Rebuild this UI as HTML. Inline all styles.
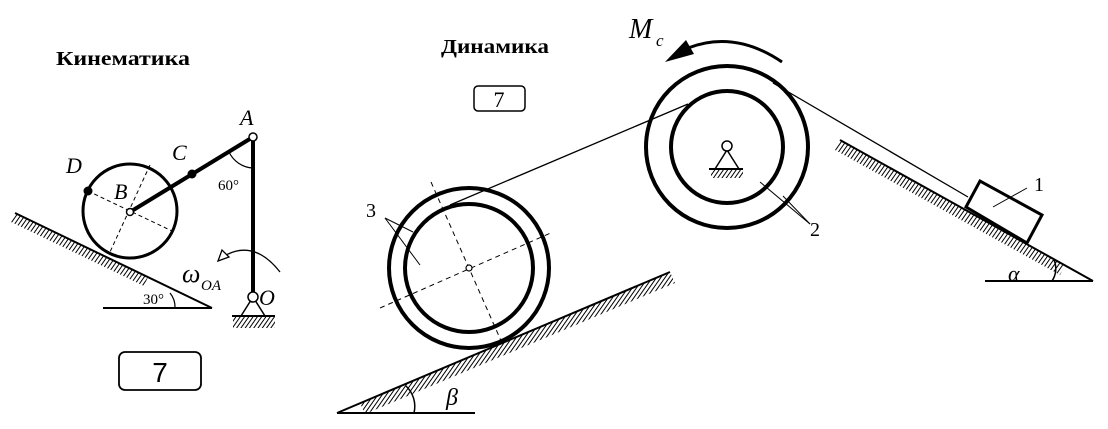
<!DOCTYPE html>
<html><head><meta charset="utf-8"><style>
html,body{margin:0;padding:0;background:#fff;}
svg{display:block}
text{font-family:"Liberation Serif",serif;fill:#000}
</style></head><body>
<svg width="1108" height="429" viewBox="0 0 1108 429" xmlns="http://www.w3.org/2000/svg">
<defs>
<pattern id="h" patternUnits="userSpaceOnUse" width="3.5" height="4" patternTransform="rotate(35)">
<line x1="0" y1="0" x2="0" y2="4" stroke="#000" stroke-width="2"/>
</pattern>
</defs>
<!-- titles -->
<text x="56" y="65" font-size="20" font-weight="bold" textLength="134" lengthAdjust="spacingAndGlyphs">Кинематика</text>
<text x="441" y="53" font-size="20" font-weight="bold" textLength="108" lengthAdjust="spacingAndGlyphs">Динамика</text>
<rect x="474" y="86" width="51" height="25" rx="4" fill="none" stroke="#000" stroke-width="1.5"/>
<text x="499" y="107" font-size="22" text-anchor="middle">7</text>
<rect x="119" y="352" width="82" height="38" rx="6" fill="none" stroke="#000" stroke-width="1.8"/>
<text x="160" y="382" font-size="28" text-anchor="middle" style="font-family:'Liberation Sans',sans-serif">7</text>

<!-- LEFT: kinematics -->
<polygon points="15,213 148,277 144,286 11,222" fill="url(#h)"/>
<line x1="15" y1="213" x2="212" y2="308" stroke="#000" stroke-width="2"/>
<line x1="103" y1="308" x2="212" y2="308" stroke="#000" stroke-width="2"/>
<path d="M175,308 A 22 22 0 0 0 170,293" fill="none" stroke="#000" stroke-width="1.2"/>
<text x="143" y="304" font-size="15">30°</text>
<circle cx="130" cy="211" r="47" fill="none" stroke="#000" stroke-width="3"/>
<line x1="88" y1="191" x2="172" y2="231" stroke="#000" stroke-width="1" stroke-dasharray="4,3"/>
<line x1="150" y1="165" x2="110" y2="252" stroke="#000" stroke-width="1" stroke-dasharray="4,3"/>
<line x1="130" y1="212" x2="253" y2="137" stroke="#000" stroke-width="4"/>
<line x1="253" y1="137" x2="253" y2="297" stroke="#000" stroke-width="4"/>
<path d="M229,152 A 28 28 0 0 0 253,168" fill="none" stroke="#000" stroke-width="1.2"/>
<circle cx="253" cy="137" r="4" fill="#fff" stroke="#000" stroke-width="1.5"/>
<circle cx="130" cy="212" r="3.5" fill="#fff" stroke="#000" stroke-width="1.5"/>
<circle cx="192" cy="174" r="4.5" fill="#000"/>
<circle cx="88" cy="191" r="4.5" fill="#000"/>
<text x="240" y="125" font-size="22" font-style="italic">A</text>
<text x="172" y="160" font-size="22" font-style="italic">C</text>
<text x="66" y="173" font-size="22" font-style="italic">D</text>
<text x="114" y="199" font-size="22" font-style="italic">B</text>
<text x="218" y="190" font-size="15">60°</text>
<path d="M226,255 Q255,240 280,272" fill="none" stroke="#000" stroke-width="1.3"/>
<polygon points="218,261 222,250 229,257" fill="#fff" stroke="#000" stroke-width="1.3"/>
<text x="182" y="282" font-size="26" font-style="italic">ω</text>
<text x="201" y="290" font-size="15" font-style="italic">OA</text>
<polygon points="253,297 241,316 265,316" fill="none" stroke="#000" stroke-width="1.5"/>
<circle cx="253" cy="297" r="5" fill="#fff" stroke="#000" stroke-width="1.5"/>
<rect x="233" y="317" width="42" height="11" fill="url(#h)"/>
<line x1="232" y1="316" x2="275" y2="316" stroke="#000" stroke-width="2"/>
<text x="259" y="305" font-size="22" font-style="italic">O</text>

<!-- MIDDLE: wheel 3 -->
<polygon points="360,403 670,272 675,283 365,414" fill="url(#h)"/>
<line x1="337" y1="413" x2="670" y2="272" stroke="#000" stroke-width="2"/>
<line x1="337" y1="413" x2="475" y2="413" stroke="#000" stroke-width="2"/>
<path d="M414,413 A 28 28 0 0 0 406,386" fill="none" stroke="#000" stroke-width="1.5"/>
<text x="446" y="405" font-size="24" font-style="italic">β</text>
<circle cx="469" cy="268" r="80" fill="none" stroke="#000" stroke-width="4"/>
<circle cx="469" cy="268" r="64" fill="none" stroke="#000" stroke-width="4"/>
<line x1="380" y1="308" x2="553" y2="232" stroke="#000" stroke-width="1" stroke-dasharray="5,4"/>
<line x1="431" y1="182" x2="502" y2="343" stroke="#000" stroke-width="1" stroke-dasharray="5,4"/>
<circle cx="469" cy="268" r="3" fill="#fff" stroke="#000" stroke-width="1.2"/>
<line x1="450" y1="205" x2="688" y2="104" stroke="#000" stroke-width="1.3"/>
<text x="366" y="217" font-size="20">3</text>
<line x1="385" y1="218" x2="413" y2="232" stroke="#000" stroke-width="1"/>
<line x1="385" y1="218" x2="420" y2="265" stroke="#000" stroke-width="1"/>

<!-- pulley 2 -->
<circle cx="727" cy="147" r="81" fill="none" stroke="#000" stroke-width="4"/>
<circle cx="727" cy="147" r="56" fill="none" stroke="#000" stroke-width="4"/>
<polygon points="727,150 715,169 739,169" fill="none" stroke="#000" stroke-width="1.5"/>
<circle cx="727" cy="146" r="5" fill="#fff" stroke="#000" stroke-width="1.5"/>
<rect x="711" y="170" width="32" height="8" fill="url(#h)"/>
<line x1="709" y1="169" x2="743" y2="169" stroke="#000" stroke-width="2"/>
<line x1="760" y1="182" x2="810" y2="224" stroke="#000" stroke-width="1"/>
<line x1="783" y1="196" x2="810" y2="224" stroke="#000" stroke-width="1"/>
<text x="810" y="236" font-size="20">2</text>
<path d="M688,48 Q735,30 782,62" fill="none" stroke="#000" stroke-width="3"/>
<polygon points="665,62 686,40 694,54" fill="#000"/>
<text x="629" y="38" font-size="28" font-style="italic">M</text>
<text x="656" y="46" font-size="17" font-style="italic">c</text>

<!-- right incline -->
<line x1="773" y1="83" x2="968" y2="197" stroke="#000" stroke-width="1.3"/>
<polygon points="840,140 1065,265 1060,275 835,150" fill="url(#h)"/>
<line x1="840" y1="140" x2="1093" y2="281" stroke="#000" stroke-width="2"/>
<line x1="985" y1="281" x2="1093" y2="281" stroke="#000" stroke-width="2"/>
<path d="M1052,281 A 22 22 0 0 0 1054,260" fill="none" stroke="#000" stroke-width="1.5"/>
<text x="1008" y="281" font-size="22" font-style="italic">α</text>
<polygon points="966,207 980,181 1042,215 1027,243" fill="#fff" stroke="#000" stroke-width="3"/>
<line x1="993" y1="207" x2="1027" y2="188" stroke="#000" stroke-width="1"/>
<text x="1034" y="191" font-size="20">1</text>
</svg>
</body></html>
